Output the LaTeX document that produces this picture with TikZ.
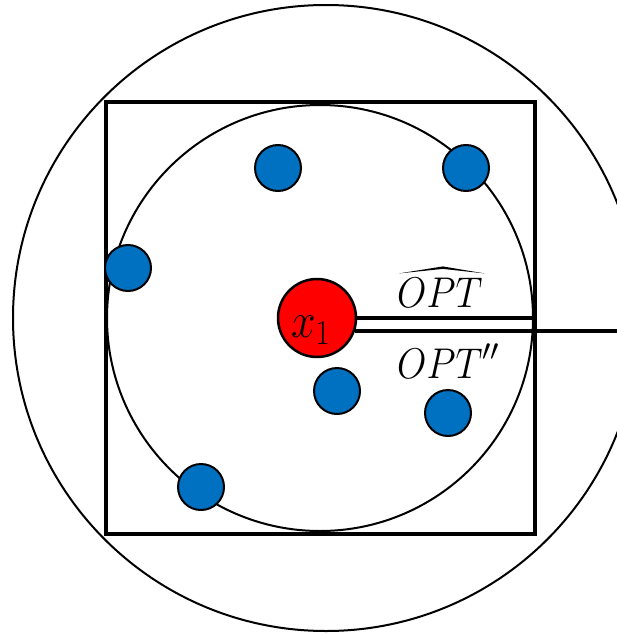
\RequirePackage{fix-cm}
\documentclass[tikz,border=0pt]{standalone}
\usepackage{graphicx}
\usetikzlibrary{calc}
\definecolor{dotblue}{HTML}{0070C0}
\definecolor{dotred}{HTML}{FF0000}
\tikzset{
  ring/.style={draw=black, line width=2pt, circle, inner sep=0pt},
  frame/.style={draw=black, line width=4.5pt, inner sep=0pt},
  point/.style={circle, draw=black, line width=2pt, fill=dotblue, minimum size=46pt, inner sep=0pt},
  centre/.style={circle, draw=black, line width=2.5pt, fill=dotred, minimum size=78pt, inner sep=0pt},
  radius line/.style={draw=black, line width=4pt},
  lab/.style={inner sep=0pt, font=\fontsize{43}{50}\selectfont},
  biglab/.style={inner sep=0pt, font=\fontsize{50}{56}\selectfont},
}
\begin{document}
\begin{tikzpicture}[x=1pt, y=-1pt]
\useasboundingbox (0,0) rectangle (617,634);
\clip (0,0) rectangle (617,634);
% outer circle
\node[ring, minimum size=626pt] (outer) at (326,318) {};
% inner circle
\node[ring, minimum size=426pt] (inner) at (320,318) {};
% square
\node[frame, minimum width=429pt, minimum height=432pt] (sq) at (320.5,318) {};
% red centre
\node[centre] (x1) at (317,318) {};
\coordinate (edgeR) at (620,331.5);
\draw[radius line] (x1.east) -- (x1.east -| sq.east);
\draw[radius line] (x1.-19) -- (x1.-19 -| edgeR);
% blue points
\node[point] (p1) at (278,168) {};
\node[point] (p2) at (466,168) {};
\node[point] (p3) at (128,268) {};
\node[point] (p4) at (337,391) {};
\node[point] (p5) at (448,413) {};
\node[point] (p6) at (201,487) {};
% labels
\node[biglab, anchor=base west] (xlab) at (291,337) {\scalebox{0.88}[1]{$x_1$}};
\node[lab, anchor=base west] (opthat) at (397,307) {\scalebox{0.88}[1]{$OPT$}};
\fill ($(opthat.north west)+(2,-4)$) -- ($(opthat.north)+(3,-11)$)
   -- ($(opthat.north east)+(2,-4)$) -- ($(opthat.north)+(3,-8.5)$) -- cycle;
\node[lab, anchor=base west] (optpp) at (397,378) {$\scalebox{0.88}[1]{$OPT$}''$};
\end{tikzpicture}
\end{document}
